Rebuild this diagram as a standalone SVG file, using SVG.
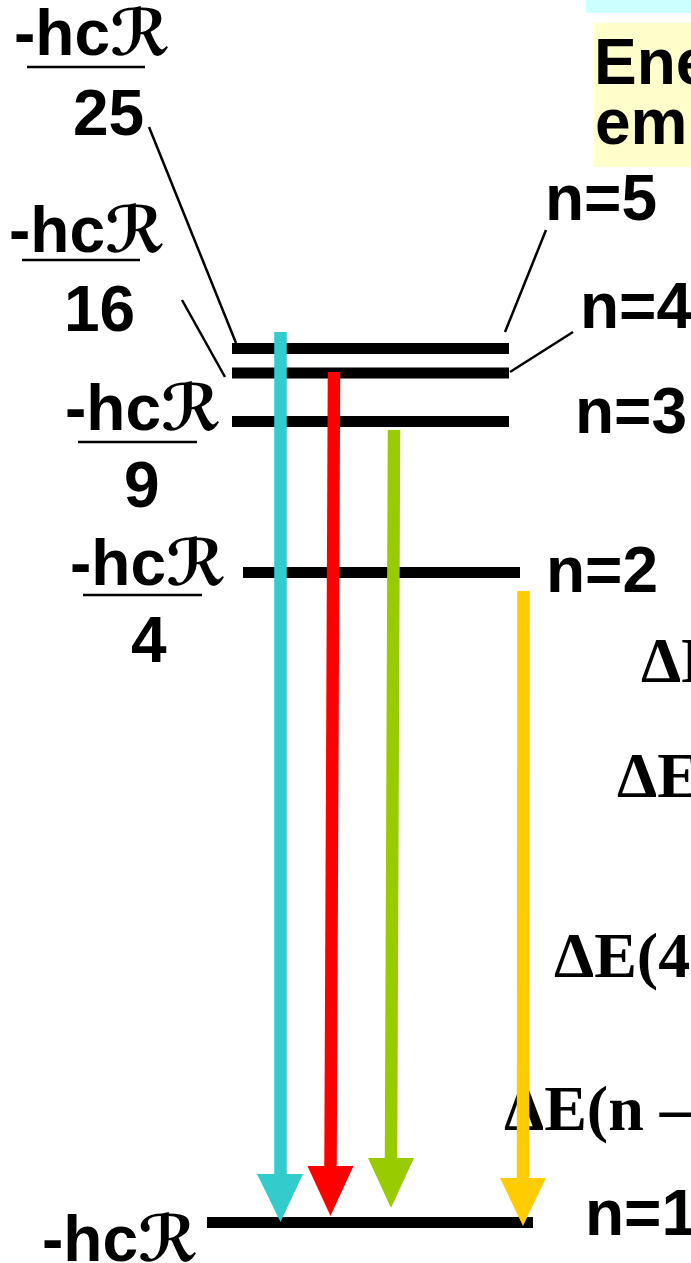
<svg xmlns="http://www.w3.org/2000/svg" width="691" height="1263" viewBox="0 0 691 1263">
<style>
.lbl{font-family:"Liberation Sans",Arial,sans-serif;font-weight:bold;font-size:64px;fill:#000}
.scr{font-family:"DejaVu Serif","DejaVu Sans",serif;font-style:italic;font-weight:bold}
.de{font-family:"Liberation Serif","Times New Roman",serif;font-weight:bold;font-size:64px;fill:#000}
.title{font-family:"Liberation Sans",Arial,sans-serif;font-weight:bold;font-size:64px;fill:#000}
.lvl{stroke:#000;stroke-width:11;fill:none}
.bar{stroke:#000;stroke-width:2.5}
.lead{stroke:#000;stroke-width:2.5;fill:none}
.shaft{stroke-width:12.5;fill:none}
</style>
<g id="title">
<rect x="586" y="0" width="105" height="13" fill="#CCFFFF"/>
<rect x="594" y="23" width="97" height="144" fill="#FFFFCC"/>
<text class="title" x="594" y="84">Ene</text>
<text class="title" x="595" y="144">em</text>
</g>
<g id="levels">
<line id="n5" class="lvl" x1="232" y1="348.5" x2="509" y2="348.5"/>
<line id="n4" class="lvl" x1="232" y1="373" x2="509" y2="373"/>
<line id="n3" class="lvl" x1="232" y1="421.5" x2="509" y2="421.5"/>
<line id="n2" class="lvl" x1="243" y1="572.5" x2="520" y2="572.5"/>
<line id="n1" class="lvl" x1="207" y1="1222.5" x2="533" y2="1222.5"/>
</g>
<g id="nlabels">
<text class="lbl" x="545" y="220">n=5</text>
<text class="lbl" x="580" y="328">n=4</text>
<text class="lbl" x="575" y="433">n=3</text>
<text class="lbl" x="546" y="592">n=2</text>
<text class="lbl" x="585" y="1235">n=1</text>
</g>
<g id="frac25">
<text class="lbl" x="14" y="55">-hc<tspan class="scr">ℛ</tspan></text>
<line class="bar" x1="27" y1="67" x2="145" y2="67"/>
<text class="lbl" x="73" y="135">25</text>
</g>
<g id="frac16">
<text class="lbl" x="9" y="252">-hc<tspan class="scr">ℛ</tspan></text>
<line class="bar" x1="22" y1="260" x2="140" y2="260"/>
<text class="lbl" x="64" y="331">16</text>
</g>
<g id="frac9">
<text class="lbl" x="65" y="430">-hc<tspan class="scr">ℛ</tspan></text>
<line class="bar" x1="78" y1="442" x2="197" y2="442"/>
<text class="lbl" x="124" y="507">9</text>
</g>
<g id="frac4">
<text class="lbl" x="70" y="585">-hc<tspan class="scr">ℛ</tspan></text>
<line class="bar" x1="83" y1="595" x2="202" y2="595"/>
<text class="lbl" x="131" y="662">4</text>
</g>
<g id="label1">
<text class="lbl" x="42" y="1261">-hc<tspan class="scr">ℛ</tspan></text>
</g>
<g id="deltas">
<text class="de" x="641" y="682">ΔE</text>
<text class="de" x="617" y="797">ΔE</text>
<text class="de" x="554" y="977">ΔE(4</text>
<text class="de" x="504" y="1130">ΔE(n –</text>
</g>
<g id="connectors">
<line class="lead" x1="149" y1="127" x2="236" y2="343"/>
<line class="lead" x1="182" y1="300" x2="225" y2="377"/>
<line class="lead" x1="546" y1="230" x2="505" y2="332"/>
<line class="lead" x1="573" y1="332" x2="510" y2="372"/>
<g id="arrow-cyan">
<line class="shaft" stroke="#33CCCC" x1="280.5" y1="332" x2="280.5" y2="1176"/>
<polygon fill="#33CCCC" points="257,1174 303,1174 280.5,1222"/>
</g>
<g id="arrow-red">
<line class="shaft" stroke="#FF0000" x1="334" y1="372" x2="330.5" y2="1168"/>
<polygon fill="#FF0000" points="307.5,1166 353.5,1166 330.5,1216"/>
</g>
<g id="arrow-green">
<line class="shaft" stroke="#99CC00" x1="394" y1="430" x2="391" y2="1160"/>
<polygon fill="#99CC00" points="368,1158 414,1158 391,1208"/>
</g>
<g id="arrow-yellow">
<line class="shaft" stroke="#FFCC00" x1="523.5" y1="591" x2="523" y2="1180"/>
<polygon fill="#FFCC00" points="500,1178 546,1178 523,1226"/>
</g>
</g>
</svg>
